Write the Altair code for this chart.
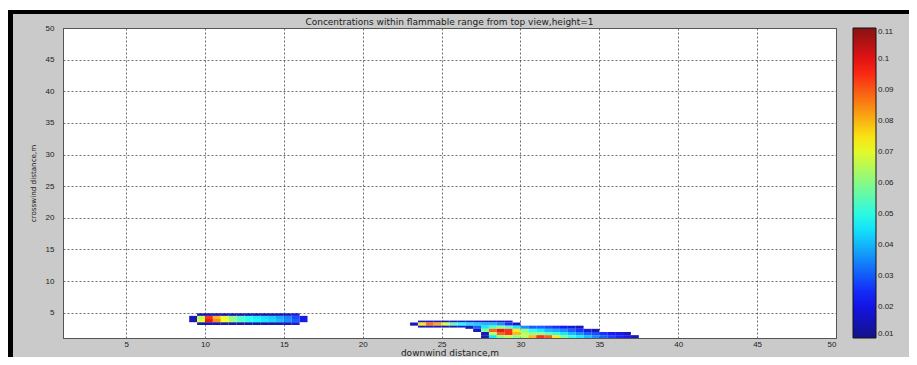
import altair as alt
import pandas as pd

# ---- data: concentration cells (x start, y range, values along x, cell width 0.5 m) ----
cell_w = 0.5

# plume 1 (around x 9-16.5, y ~4)
p1_y = [3.05, 3.5, 4.0, 4.5]
p1_y2 = [3.5, 4.0, 4.5, 4.9]
p1_x0 = [9.5, 9.0, 9.0, 9.5]
p1_vals = [
    [0.014, 0.014, 0.014, 0.014, 0.014, 0.014, 0.014, 0.014, 0.014, 0.014, 0.014, 0.016, 0.018],
    [0.015, 0.07, 0.1, 0.085, 0.072, 0.062, 0.055, 0.05, 0.047, 0.045, 0.043, 0.04, 0.035, 0.03, 0.02],
    [0.015, 0.065, 0.095, 0.08, 0.07, 0.06, 0.053, 0.049, 0.046, 0.044, 0.042, 0.038, 0.034, 0.028, 0.02],
    [0.014, 0.014, 0.014, 0.014, 0.014, 0.014, 0.014, 0.014, 0.014, 0.014, 0.014, 0.016, 0.018],
]

# plume 2 (around x 23-37.5, y 1-3.7)
p2_y = [3.45, 2.95, 2.65, 2.45, 1.95, 1.45, 1.0]
p2_y2 = [3.75, 3.45, 2.95, 2.95, 2.45, 1.95, 1.45]
p2_x0 = [23.5, 23.0, 23.5, 26.5, 27.0, 27.5, 27.5]
p2_vals = [
    [0.015, 0.015, 0.015, 0.015, 0.015, 0.015, 0.015, 0.015, 0.015, 0.015, 0.015, 0.015],
    [0.015, 0.075, 0.088, 0.082, 0.068, 0.055, 0.048, 0.044, 0.042, 0.04, 0.04, 0.035, 0.025, 0.015],
    [0.015, 0.015, 0.015, 0.015, 0.015, 0.018],
    [0.015, 0.03, 0.045, 0.055, 0.06, 0.055, 0.045, 0.035, 0.03, 0.03, 0.028, 0.025, 0.022, 0.018, 0.015],
    [0.015, 0.06, 0.09, 0.1, 0.095, 0.075, 0.06, 0.05, 0.045, 0.04, 0.038, 0.035, 0.03, 0.025, 0.02, 0.015],
    [0.015, 0.065, 0.09, 0.095, 0.08, 0.065, 0.06, 0.06, 0.055, 0.05, 0.045, 0.04, 0.035, 0.03, 0.028, 0.025, 0.022, 0.02, 0.015],
    [0.015, 0.045, 0.06, 0.065, 0.06, 0.065, 0.08, 0.095, 0.09, 0.075, 0.06, 0.05, 0.045, 0.04, 0.035, 0.03, 0.027, 0.024, 0.02, 0.015],
]

x_ticks = [5, 10, 15, 20, 25, 30, 35, 40, 45, 50]
y_ticks = [5, 10, 15, 20, 25, 30, 35, 40, 45, 50]
cbar_ticks = [0.01, 0.02, 0.03, 0.04, 0.05, 0.06, 0.07, 0.08, 0.09, 0.1, 0.11]

jet_domain = [0.01, 0.0225, 0.0475, 0.0725, 0.0975, 0.11]
jet_range = ["#000080", "#0000ff", "#00ffff", "#ffff00", "#ff0000", "#800000"]

title_text = "Concentrations within flammable range from top view,height=1"

rows = []
for ys, y2s, x0s, vals in [(p1_y, p1_y2, p1_x0, p1_vals), (p2_y, p2_y2, p2_x0, p2_vals)]:
    for y, y2, x0, vs in zip(ys, y2s, x0s, vals):
        for i, v in enumerate(vs):
            rows.append({"x": x0 + i * cell_w, "x2": x0 + (i + 1) * cell_w, "y": y, "y2": y2, "c": v})
df = pd.DataFrame(rows)

FONT = "Liberation Sans"
WIDE = "DejaVu Sans"
W, H = 773, 310
PT, PL, PR, PB = 20, 55, 73, 19

heat = alt.Chart(df).mark_rect(opacity=0.9).encode(
    x=alt.X("x:Q", scale=alt.Scale(domain=[1, 50], nice=False, zero=False),
            axis=alt.Axis(values=x_ticks, title="downwind distance,m", grid=True,
                          gridDash=[2, 2], gridColor="#555", gridOpacity=0.85,
                          ticks=False, tickSize=0, labelPadding=2, titlePadding=0,
                          labelFontSize=8, titleFontSize=9, labelFont=FONT, titleFont=WIDE,
                          titleFontWeight="normal", labelColor="#222", titleColor="#222",
                          domainColor="#555")),
    x2="x2:Q",
    y=alt.Y("y:Q", scale=alt.Scale(domain=[1, 50], nice=False, zero=False),
            axis=alt.Axis(values=y_ticks, title="crosswind distance,m", grid=True,
                          gridDash=[2, 2], gridColor="#555", gridOpacity=0.85,
                          ticks=False, tickSize=0, labelPadding=9, titlePadding=8,
                          labelFontSize=8, titleFontSize=7.2, labelFont=FONT, titleFont=WIDE,
                          titleFontWeight="normal", labelColor="#222", titleColor="#222",
                          domainColor="#555")),
    y2="y2:Q",
    color=alt.Color("c:Q",
                    scale=alt.Scale(domain=jet_domain, range=jet_range, interpolate="rgb"),
                    legend=alt.Legend(orient="none", legendX=790, legendY=0, title=None,
                                      direction="vertical", gradientLength=H,
                                      gradientThickness=23, values=cbar_ticks, format=".2~f",
                                      labelFontSize=8, labelFont=FONT, labelColor="#222",
                                      labelOffset=2, labelOverlap=False, labelLimit=60,
                                      gradientStrokeColor="#000", gradientStrokeWidth=1,
                                      padding=0)),
)

deco_src = pd.DataFrame({"k": [0]})
top_band = alt.Chart(deco_src).mark_rect(color="#000").encode(
    x=alt.value(-PL), x2=alt.value(W + PR), y=alt.value(-PT + 2), y2=alt.value(-PT + 6))
left_band = alt.Chart(deco_src).mark_rect(color="#000").encode(
    x=alt.value(-PL), x2=alt.value(-PL + 5), y=alt.value(-PT + 2), y2=alt.value(H + PB))
white_top = alt.Chart(deco_src).mark_rect(color="#fff").encode(
    x=alt.value(-PL), x2=alt.value(W + PR), y=alt.value(-PT), y2=alt.value(-PT + 2))
title_mark = alt.Chart(deco_src).mark_text(
    font=WIDE, fontSize=9, color="#222", align="center", baseline="middle").encode(
    x=alt.value(W / 2), y=alt.value(-6), text=alt.value(title_text))

chart = alt.layer(white_top, top_band, left_band, title_mark, heat).properties(
    width=W, height=H,
    background="#cacaca",
    padding={"left": PL, "top": PT, "right": PR, "bottom": PB},
    autosize=alt.AutoSizeParams(type="none"),
).configure_view(stroke="#555", strokeWidth=1, fill="white")

chart.save("out.html", embed_options={"renderer": "svg", "actions": False})
